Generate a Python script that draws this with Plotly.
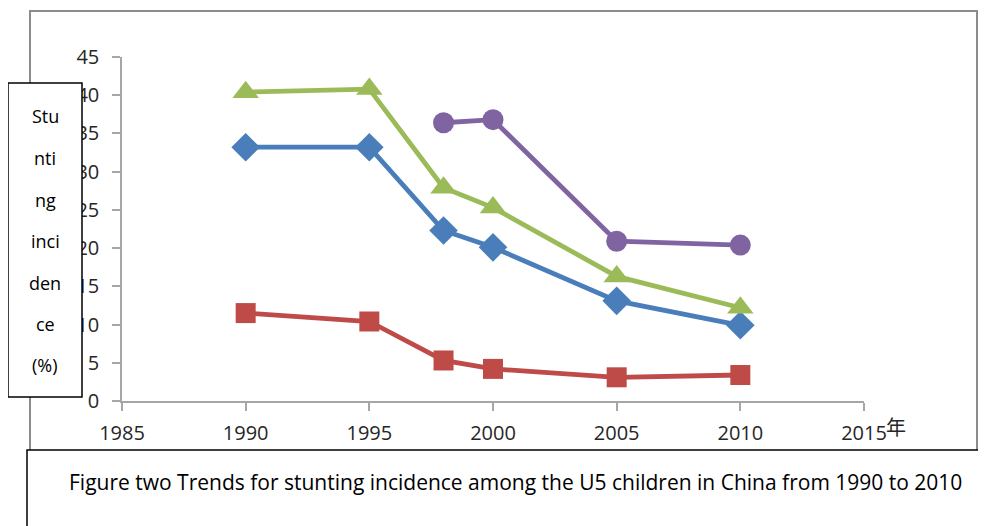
import plotly.graph_objects as go

years_all = [1990, 1995, 1998, 2000, 2005, 2010]
years_purple = [1998, 2000, 2005, 2010]

blue_values = [33.2, 33.2, 22.3, 20.1, 13.1, 9.9]
red_values = [11.5, 10.4, 5.3, 4.2, 3.1, 3.4]
green_values = [40.4, 40.8, 27.9, 25.3, 16.3, 12.2]
purple_values = [36.4, 36.8, 20.9, 20.4]

x_ticks = [1985, 1990, 1995, 2000, 2005, 2010, 2015]
y_ticks = [0, 5, 10, 15, 20, 25, 30, 35, 40, 45]

ytitle_parts = ["Stu", "nti", "ng", "inci", "den", "ce", "(%)"]
caption = "Figure two Trends for stunting incidence among the U5 children in China from 1990 to 2010"
x_unit = "年"

W, H = 986, 526
OFF = 8  # page body margin
L, R, T, B = 122 - OFF, 864 - OFF, 57 - OFF, 401 - OFF  # plot area in pixels


def px(xp):
    return (xp - OFF - L) / (R - L)


def py(yp):
    return (B - (yp - OFF)) / (B - T)


fig = go.Figure()

series = [
    (years_all, blue_values, "#4A7EBB", "diamond", 22),
    (years_all, red_values, "#BE4B48", "square", 20),
    (years_all, green_values, "#9BBB59", "triangle-up", 23),
    (years_purple, purple_values, "#8064A2", "circle", 21),
]
for xs, ys, col, sym, sz in series:
    fig.add_trace(go.Scatter(
        x=xs, y=ys, mode="lines+markers",
        line=dict(color=col, width=4.8),
        marker=dict(symbol=sym, size=sz, color=col, line=dict(width=0)),
        showlegend=False, cliponaxis=False,
    ))

axis_col = "#A6A6A6"
fig.update_xaxes(
    range=[1985, 2015], tickvals=x_ticks, ticktext=[str(v) for v in x_ticks],
    showgrid=False, zeroline=False, showline=True, linecolor=axis_col, linewidth=1.5,
    ticks="outside", ticklen=8, tickcolor=axis_col, tickwidth=1.5,
    tickfont=dict(family="Open Sans", size=20, color="#262626"),
    ticklabelstandoff=5,
)
fig.update_yaxes(
    range=[0, 45], tickvals=y_ticks, ticktext=[str(v) for v in y_ticks],
    showgrid=False, zeroline=False, showline=True, linecolor=axis_col, linewidth=1.5,
    ticks="outside", ticklen=8, tickcolor=axis_col, tickwidth=1.5,
    tickfont=dict(family="Open Sans", size=20, color="#262626"),
    ticklabelstandoff=9,
)

shapes = [
    # outer chart border
    dict(type="rect", xref="paper", yref="paper",
         x0=px(30), x1=px(977), y0=py(470), y1=py(11),
         line=dict(color="#8C8C8C", width=2), fillcolor="rgba(0,0,0,0)", layer="below"),
    # y title box
    dict(type="rect", xref="paper", yref="paper",
         x0=px(8), x1=px(82), y0=py(397), y1=py(83),
         line=dict(color="#000000", width=1.5), fillcolor="white", layer="above"),
    # caption box
    dict(type="rect", xref="paper", yref="paper",
         x0=px(27), x1=px(1000), y0=py(540), y1=py(450),
         line=dict(color="#000000", width=1.5), fillcolor="white", layer="above"),
]

annotations = []
ytitle_y = [116, 158, 200, 241, 283, 324, 365]
for txt, yy in zip(ytitle_parts, ytitle_y):
    annotations.append(dict(
        text=txt, xref="paper", yref="paper", x=px(45), y=py(yy),
        showarrow=False, xanchor="center", yanchor="middle",
        font=dict(family="Open Sans", size=18, color="#000000"),
    ))
annotations.append(dict(
    text=caption, xref="paper", yref="paper", x=px(515), y=py(482),
    showarrow=False, xanchor="center", yanchor="middle",
    font=dict(family="Open Sans", size=21, color="#000000"),
))
annotations.append(dict(
    text=x_unit, xref="paper", yref="paper", x=px(896), y=py(427),
    showarrow=False, xanchor="center", yanchor="middle",
    font=dict(family="Noto Sans CJK SC", size=20, color="#262626"),
))

fig.update_layout(
    width=W, height=H,
    margin=dict(l=L, r=W - R, t=T, b=H - B),
    paper_bgcolor="white", plot_bgcolor="white",
    shapes=shapes, annotations=annotations,
)

fig.write_html("out.html")
